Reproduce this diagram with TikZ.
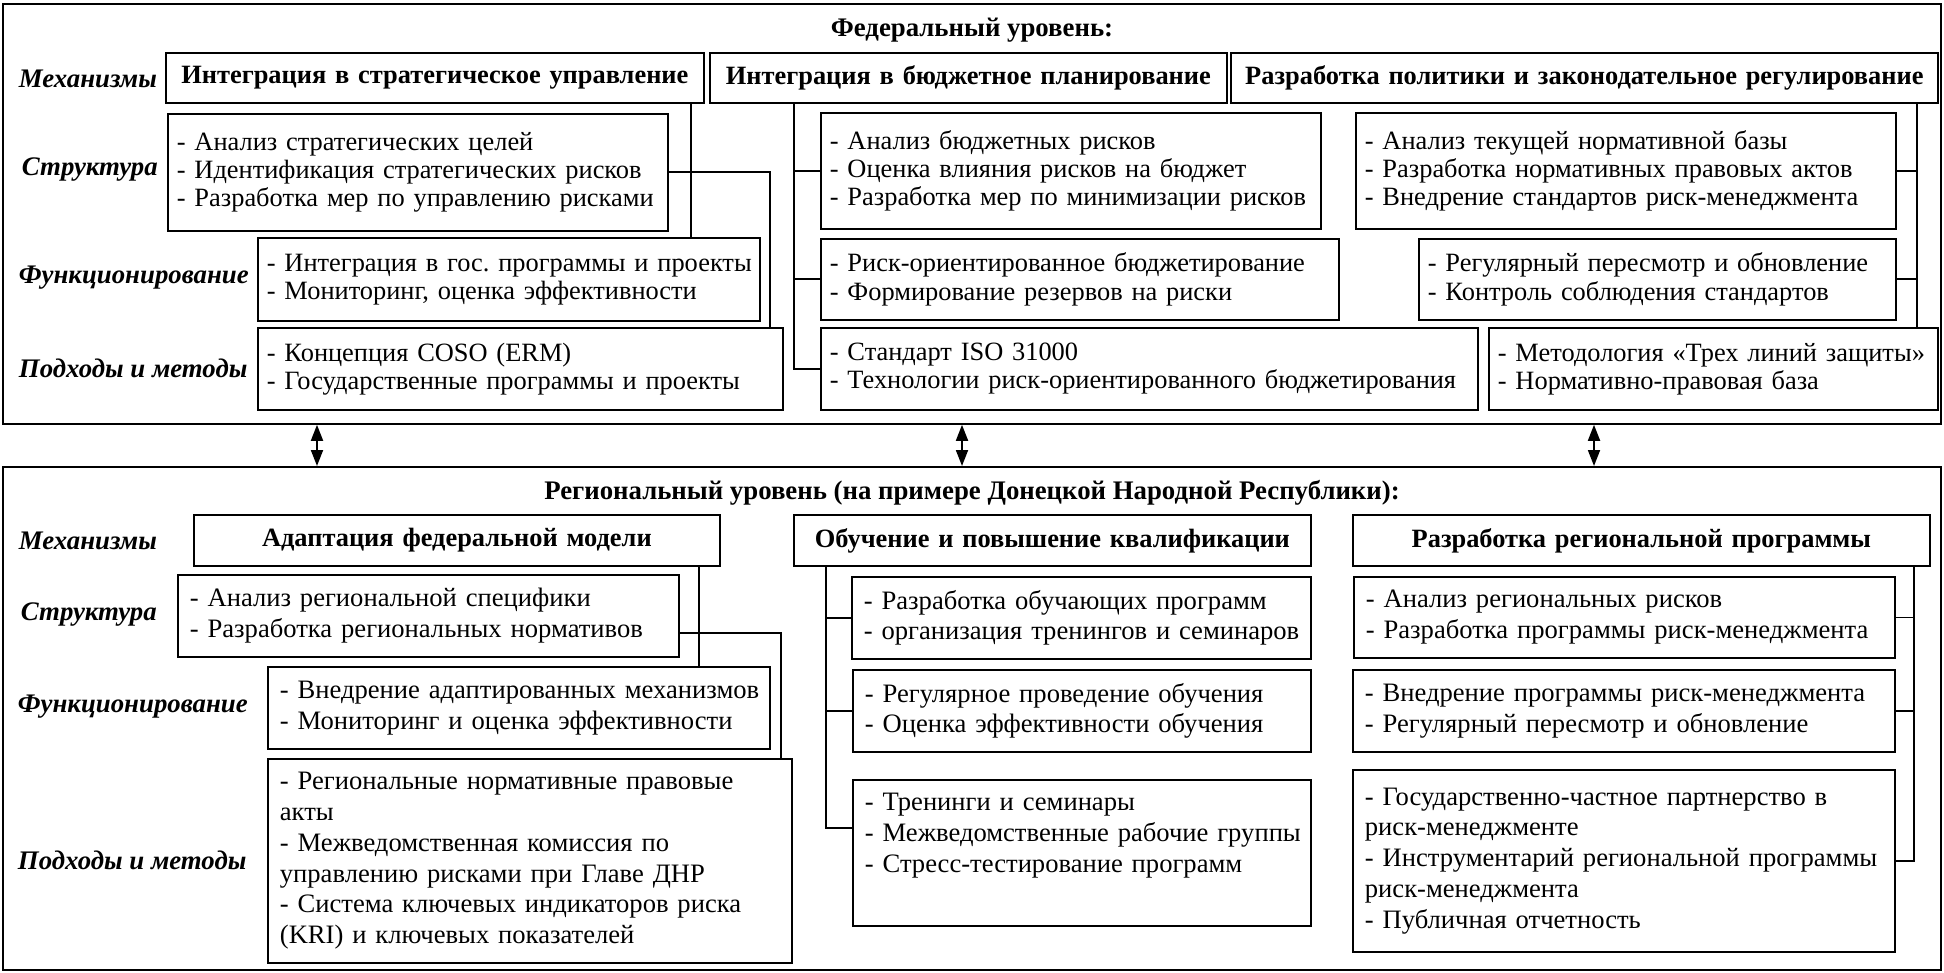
\documentclass[tikz,border=0pt]{standalone}
\usepackage{fontspec}
\setmainfont{Liberation Serif}
\usetikzlibrary{arrows.meta}
\newcommand\fedfnt{\fontsize{13.2}{14.1}\selectfont}
\newcommand\regfnt{\fontsize{13.3}{15.4}\selectfont}
\frenchspacing
\begin{document}
\begin{tikzpicture}[x=0.5pt,y=-0.5pt,line width=0.9pt,
  wh/.style 2 args={minimum width=#1*0.5pt, minimum height=#2*0.5pt, text width=#1*0.5pt},
  outer/.style={draw, anchor=north west, inner sep=0pt},
  bx/.style={draw, anchor=north west, inner sep=0pt, align=left, font=\fedfnt,
    execute at begin node={\leftskip=4.5pt}},
  rbx/.style={draw, anchor=north west, inner sep=0pt, align=left, font=\regfnt,
    execute at begin node={\leftskip=6pt}},
  mbx/.style={draw, anchor=north west, inner sep=0pt, align=center, font=\fontsize{13.2}{14}\selectfont\bfseries},
  lab/.style={anchor=west, inner sep=0pt, font=\fontsize{13.4}{14}\selectfont\bfseries\itshape},
  ttl/.style={inner sep=0pt, font=\fontsize{13.4}{14}\selectfont\bfseries},
  dbl/.style={{Triangle[length=8pt,width=6pt]}-{Triangle[length=8pt,width=6pt]}}
]
\useasboundingbox (0,0) rectangle (1944,973);
% outer frames
\node[outer, wh={1938}{420}] (fed) at (2,3) {};
\node[outer, wh={1938}{503}] (reg) at (2,466) {};
\node[ttl] (tf) at (972,30) {Федеральный уровень:};
\node[ttl] (tr) at (972,493) {Региональный уровень (на примере Донецкой Народной Республики):};
% federal labels
\node[lab] (lf1) at (18,79) {Механизмы};
\node[lab] (lf2) at (21,170) {Структура};
\node[lab] (lf3) at (18,278) {Функционирование};
\node[lab] (lf4) at (18,368) {Подходы и методы};
% federal boxes
\node[mbx, wh={538}{50}] (m1) at (165,52) {Интеграция в стратегическое управление};
\node[mbx, wh={517}{50}] (m2) at (709,52) {Интеграция в бюджетное планирование};
\node[mbx, wh={707}{50}] (m3) at (1230,52) {Разработка политики и законодательное регулирование};
\node[bx, wh={500}{117}] (s1) at (167,113) {- Анализ стратегических целей\\- Идентификация стратегических рисков\\- Разработка мер по управлению рисками};
\node[bx, wh={500}{116}] (s2) at (820,112) {- Анализ бюджетных рисков\\- Оценка влияния рисков на бюджет\\- Разработка мер по минимизации рисков};
\node[bx, wh={540}{116}] (s3) at (1355,112) {- Анализ текущей нормативной базы\\- Разработка нормативных правовых актов\\- Внедрение стандартов риск-менеджмента};
\node[bx, wh={502}{83}] (f1) at (257,237) {- Интеграция в гос. программы и проекты\\- Мониторинг, оценка эффективности};
\node[bx, wh={518}{81}] (f2) at (820,238) {- Риск-ориентированное бюджетирование\\- Формирование резервов на риски};
\node[bx, wh={477}{81}] (f3) at (1418,238) {- Регулярный пересмотр и обновление\\- Контроль соблюдения стандартов};
\node[bx, wh={525}{82}] (a1) at (257,327) {- Концепция COSO (ERM)\\- Государственные программы и проекты};
\node[bx, wh={657}{82}] (a2) at (820,327) {- Стандарт ISO 31000\\- Технологии риск-ориентированного бюджетирования};
\node[bx, wh={449}{82}] (a3) at (1488,327) {- Методология «Трех линий защиты»\\- Нормативно-правовая база};
% federal connectors
\coordinate (c1) at (691,0);
\coordinate (c2) at (770,0);
\coordinate (c3) at (794,0);
\coordinate (c4) at (1917,0);
\draw (m1.south -| c1) -- (f1.north -| c1);
\draw (s1.east) -| (c2 |- a1.north);
\draw (m2.south -| c3) |- (a2.west);
\draw (c3 |- s2.west) -- (s2.west);
\draw (c3 |- f2.west) -- (f2.west);
\draw (m3.south -| c4) -- (a3.north -| c4);
\draw (s3.east) -- (s3.east -| c4);
\draw (f3.east) -- (f3.east -| c4);
% arrows between levels
\coordinate (ar1) at (317,0);
\coordinate (ar2) at (962,0);
\coordinate (ar3) at (1594,0);
\draw[dbl] (fed.south -| ar1) -- (reg.north -| ar1);
\draw[dbl] (fed.south -| ar2) -- (reg.north -| ar2);
\draw[dbl] (fed.south -| ar3) -- (reg.north -| ar3);
% regional labels
\node[lab] (lr1) at (18,541) {Механизмы};
\node[lab] (lr2) at (20,615) {Структура};
\node[lab] (lr3) at (17,707) {Функционирование};
\node[lab] (lr4) at (17,860) {Подходы и методы};
% regional boxes
\node[mbx, wh={526}{51}] (rm1) at (193,514) {Адаптация федеральной модели};
\node[mbx, wh={517}{51}] (rm2) at (793,514) {Обучение и повышение квалификации};
\node[mbx, wh={577}{51}] (rm3) at (1352,514) {Разработка региональной программы};
\node[rbx, wh={501}{82}] (rs1) at (177,574) {- Анализ региональной специфики\\- Разработка региональных нормативов};
\node[rbx, wh={459}{82}] (rs2) at (851,576) {- Разработка обучающих программ\\- организация тренингов и семинаров};
\node[rbx, wh={541}{81}] (rs3) at (1353,576) {- Анализ региональных рисков\\- Разработка программы риск-менеджмента};
\node[rbx, wh={502}{82}] (rf1) at (267,666) {- Внедрение адаптированных механизмов\\- Мониторинг и оценка эффективности};
\node[rbx, wh={458}{82}] (rf2) at (852,669) {- Регулярное проведение обучения\\- Оценка эффективности обучения};
\node[rbx, wh={542}{82}] (rf3) at (1352,669) {- Внедрение программы риск-менеджмента\\- Регулярный пересмотр и обновление};
\node[rbx, wh={524}{204}] (ra1) at (267,758) {- Региональные нормативные правовые\\акты\\- Межведомственная комиссия по\\управлению рисками при Главе ДНР\\- Система ключевых индикаторов риска\\(KRI) и ключевых показателей};
\node[rbx, wh={458}{146}] (ra2) at (852,779) {- Тренинги и семинары\\- Межведомственные рабочие группы\\- Стресс-тестирование программ\\\strut};
\node[rbx, wh={542}{182}] (ra3) at (1352,769) {- Государственно-частное партнерство в\\риск-менеджменте\\- Инструментарий региональной программы\\риск-менеджмента\\- Публичная отчетность};
% regional connectors
\coordinate (d1) at (699,0);
\coordinate (d2) at (781,0);
\coordinate (d3) at (826,0);
\coordinate (d4) at (1914,0);
\coordinate (e1) at (0,633);
\coordinate (e2) at (0,828);
\draw (rm1.south -| d1) -- (rf1.north -| d1);
\draw (rs1.east |- e1) -| (d2 |- ra1.north);
\draw (rm2.south -| d3) |- (ra2.west |- e2);
\draw (d3 |- rs2.west) -- (rs2.west);
\draw (d3 |- rf2.west) -- (rf2.west);
\draw (rm3.south -| d4) |- (ra3.east);
\draw (rs3.east) -- (rs3.east -| d4);
\draw (rf3.east) -- (rf3.east -| d4);
\end{tikzpicture}
\end{document}
